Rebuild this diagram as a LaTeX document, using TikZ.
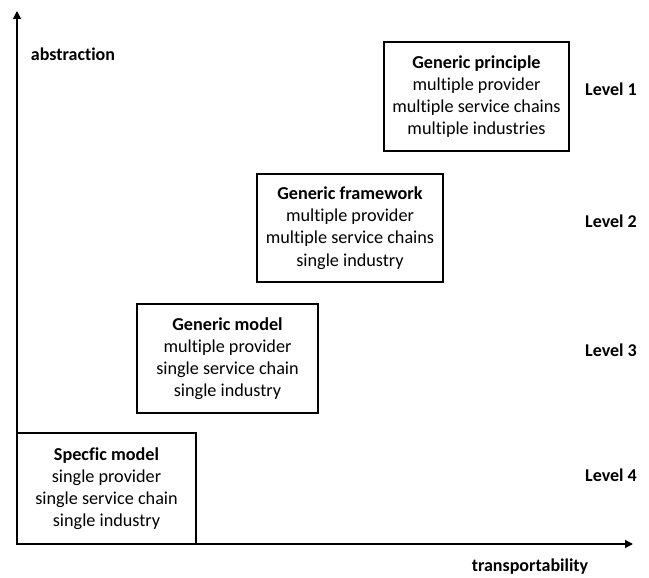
\documentclass[tikz,border=0pt]{standalone}
\usepackage{fontspec}
\setmainfont[Ligatures=NoCommon]{Carlito}
\usetikzlibrary{arrows.meta}
\begin{document}
\begin{tikzpicture}[x=1pt,y=-1pt,
  box/.style={draw, line width=1.2pt, align=center, inner sep=0pt,
    font=\fontsize{18.2}{22.2}\selectfont},
  lbl/.style={font=\fontsize{18}{20}\selectfont\bfseries, inner sep=0pt},
  axis/.style={line width=1.3pt, -{Triangle[length=8pt,width=8pt]}}]
\useasboundingbox (0,0) rectangle (649,578);
\coordinate (o) at (17,544);
\coordinate (ytip) at (17,11);
\coordinate (xtip) at (633,544);
\node[box, minimum width=179pt, minimum height=111pt] (s) at (106.5,488.5)
  {\textbf{Specfic model}\\single provider\\single service chain\\single industry};
\node[box, minimum width=181pt, minimum height=109pt] (m) at (227.5,358.5)
  {\textbf{Generic model}\\multiple provider\\single service chain\\single industry};
\node[box, minimum width=186pt, minimum height=108pt] (f) at (350,228)
  {\textbf{Generic framework}\\multiple provider\\multiple service chains\\single industry};
\node[box, minimum width=185pt, minimum height=109pt] (p) at (476.5,96.5)
  {\textbf{Generic principle}\\multiple provider\\multiple service chains\\multiple industries};
\draw[axis] (o) -- (ytip);
\draw[axis] (o) -- (xtip);
\node[lbl] (ab) at (73,54) {abstraction};
\node[lbl] (tr) at (530,567) {transportability};
\node[lbl] (l1) at (611,89) {Level 1};
\node[lbl] (l2) at (611,221) {Level 2};
\node[lbl] (l3) at (611,350) {Level 3};
\node[lbl] (l4) at (611,475) {Level 4};
\end{tikzpicture}
\end{document}
